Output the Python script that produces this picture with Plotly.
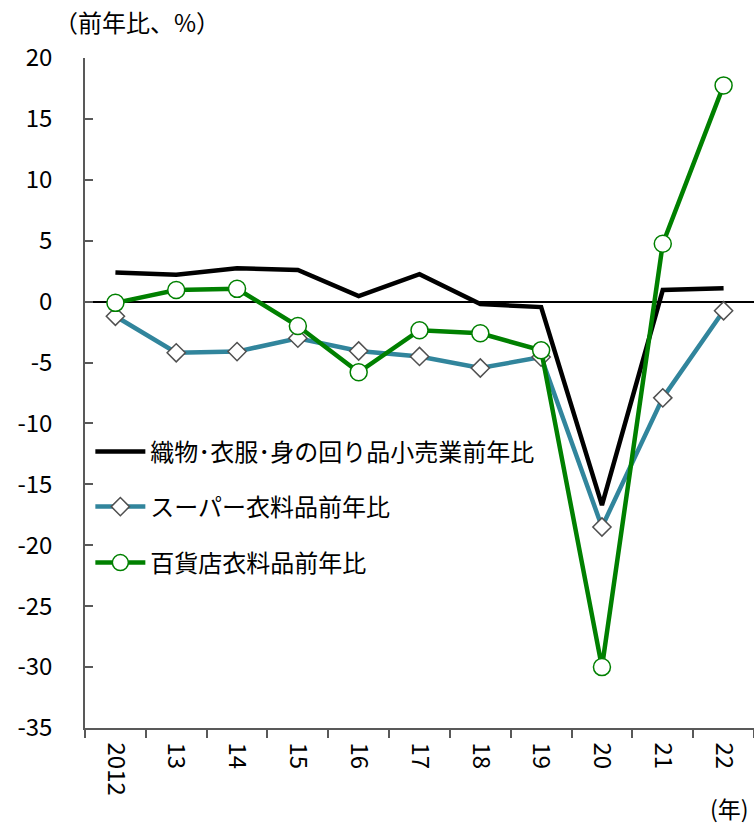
import plotly.graph_objects as go

years = ["2012", "13", "14", "15", "16", "17", "18", "19", "20", "21", "22"]
retail = [2.4, 2.2, 2.75, 2.6, 0.45, 2.25, -0.2, -0.45, -16.7, 0.95, 1.1]
super_ = [-1.2, -4.2, -4.1, -3.0, -4.05, -4.5, -5.45, -4.55, -18.5, -7.9, -0.75]
dept = [-0.1, 0.95, 1.05, -2.0, -5.8, -2.35, -2.6, -4.0, -30.0, 4.75, 17.75]

y_ticks = [20, 15, 10, 5, 0, -5, -10, -15, -20, -25, -30, -35]
y_labels = ["20", "15", "10", "5", "0", "-5", "-10", "-15", "-20", "-25", "-30", "-35"]

names = ["織物･衣服･身の回り品小売業前年比", "スーパー衣料品前年比", "百貨店衣料品前年比"]
FONT = "Noto Sans CJK JP"

fig = go.Figure()
fig.add_trace(go.Scatter(x=years, y=retail, mode="lines", name=names[0],
                         line=dict(color="black", width=4.5), legend="legend"))
fig.add_trace(go.Scatter(x=years, y=super_, mode="lines+markers", name=names[1],
                         line=dict(color="#31859C", width=4.5),
                         marker=dict(symbol="diamond", size=14, color="white",
                                     line=dict(color="#505050", width=1.5)),
                         legend="legend2"))
fig.add_trace(go.Scatter(x=years, y=dept, mode="lines+markers", name=names[2],
                         line=dict(color="#008000", width=4.5),
                         marker=dict(symbol="circle", size=17, color="white",
                                     line=dict(color="#008000", width=1.5)),
                         legend="legend3"))

legfont = dict(family=FONT, size=24, color="#000000")
def leg(y):
    return dict(x=0.008, y=y, xanchor="left", yanchor="middle", font=legfont,
                bgcolor="rgba(0,0,0,0)", borderwidth=0, itemwidth=50)

fig.update_layout(
    width=754, height=825,
    margin=dict(l=85, r=0, t=58, b=97, autoexpand=False),
    paper_bgcolor="white", plot_bgcolor="white",
    font=dict(family=FONT, size=23, color="#000000"),
    showlegend=True,
    legend=leg(1 - (452 - 58) / 670),
    legend2=leg(1 - (507 - 58) / 670),
    legend3=leg(1 - (563 - 58) / 670),
    xaxis=dict(type="category", tickangle=90, showgrid=False, automargin=False,
               showline=True, linecolor="#595959", linewidth=1.5,
               ticks="outside", tickson="boundaries", ticklen=8,
               tickcolor="#595959", tickwidth=1.5, ticklabelstandoff=8,
               tickfont=dict(family=FONT, size=24), range=[-0.5, 10.5]),
    yaxis=dict(range=[-35, 20], tickvals=y_ticks, ticktext=y_labels,
               showgrid=False, automargin=False,
               showline=True, linecolor="#595959", linewidth=1.5,
               ticks="inside", ticklen=8, tickcolor="#595959", tickwidth=1.5,
               ticklabelstandoff=26,
               zeroline=True, zerolinecolor="black", zerolinewidth=1.5,
               tickfont=dict(family=FONT, size=24)),
    annotations=[
        dict(text="（前年比、%）", xref="paper", yref="paper", x=-0.05, y=1.0,
             yshift=37, xanchor="left", yanchor="middle", showarrow=False,
             font=dict(family=FONT, size=24)),
        dict(text="(年)", xref="paper", yref="paper", x=0.995, y=0, yshift=-80,
             xanchor="right", yanchor="middle", showarrow=False,
             font=dict(family=FONT, size=23)),
    ],
)

fig.write_html("out.html", config={"displayModeBar": False},
               post_script="document.body.style.margin='0';document.body.style.padding='0';")
